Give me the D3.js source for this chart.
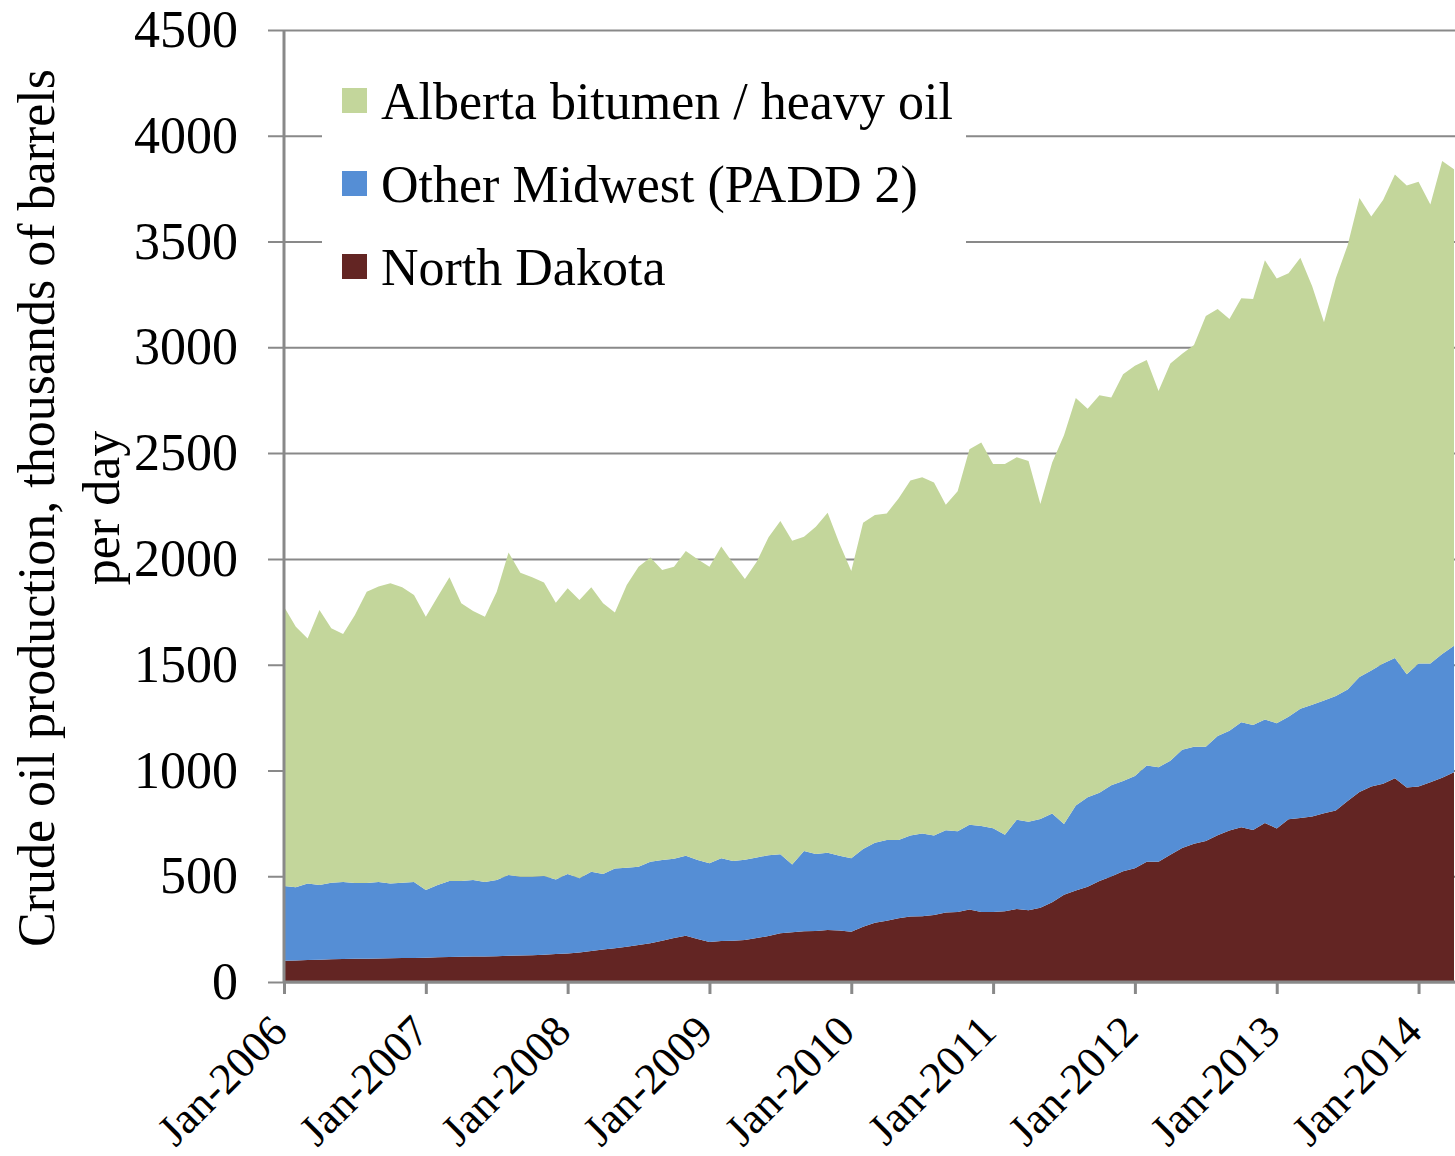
<!DOCTYPE html>
<html>
<head>
<meta charset="utf-8">
<script src="https://cdn.jsdelivr.net/npm/d3@7/dist/d3.min.js"></script>
<style>
  body { margin: 0; background: #fff; }
  svg { display: block; font-family: "Liberation Serif", "Times New Roman", serif; }
</style>
</head>
<body>
<svg id="chart" width="1455" height="1156"></svg>
<script>
// monthly, Jan-2006 .. Apr-2014, thousands of barrels per day
const years = [2006, 2007, 2008, 2009, 2010, 2011, 2012, 2013, 2014];
const monthCount = 100;

const northDakota = [
  100, 102, 104, 105, 107, 109, 110, 110, 111, 112, 113, 113,
  115, 117, 118, 119, 120, 121, 122, 124, 125, 127, 129, 132,
  135, 139, 147, 154, 159, 167, 175, 183, 195, 208, 219, 203,
  189, 194, 195, 198, 208, 217, 230, 235, 240, 241, 246, 244,
  238, 261, 280, 290, 301, 310, 311, 317, 329, 331, 343, 331,
  331, 335, 345, 339, 351, 377, 412, 432, 450, 477, 499, 524,
  538, 568, 568, 601, 633, 654, 666, 694, 716, 731, 718, 752,
  726, 769, 775, 782, 798, 811, 855, 898, 924, 937, 963, 919,
  924, 944, 965, 991
];

const otherMidwest = [
  354, 346, 362, 353, 362, 364, 358, 358, 362, 354, 356, 360,
  320, 341, 359, 358, 362, 352, 360, 382, 373, 371, 372, 353,
  375, 351, 374, 356, 378, 373, 370, 386, 382, 375, 378, 374,
  372, 391, 377, 380, 381, 382, 374, 321, 379, 364, 365, 353,
  347, 368, 378, 381, 370, 383, 391, 375, 388, 381, 400, 406,
  396, 361, 422, 418, 420, 419, 335, 402, 423, 418, 431, 426,
  436, 455, 447, 445, 465, 458, 446, 469, 472, 497, 497, 489,
  497, 485, 517, 528, 533, 541, 528, 544, 549, 569, 569, 536,
  582, 562, 585, 598
];

const alberta = [
  1320, 1231, 1158, 1300, 1203, 1172, 1267, 1377, 1396, 1419, 1397, 1356,
  1292, 1363, 1436, 1313, 1272, 1254, 1363, 1524, 1437, 1415, 1387, 1308,
  1351, 1316, 1345, 1280, 1209, 1337, 1418, 1438, 1370, 1380, 1440, 1421,
  1402, 1473, 1407, 1327, 1398, 1503, 1575, 1530, 1486, 1547, 1607, 1476,
  1358, 1542, 1549, 1544, 1614, 1678, 1684, 1669, 1539, 1608, 1775, 1813,
  1721, 1752, 1714, 1706, 1488, 1660, 1838, 1927, 1837, 1878, 1833, 1923,
  1939, 1917, 1779, 1877, 1872, 1899, 2036, 2018, 1946, 2004, 2014, 2171,
  2102, 2096, 2131, 1979, 1788, 1975, 2099, 2264, 2145, 2190, 2285, 2310,
  2277, 2169, 2331, 2253
];

const yTicks = [0, 500, 1000, 1500, 2000, 2500, 3000, 3500, 4000, 4500];

const seriesDefs = [
  {key: 'nd', label: 'North Dakota', color: '#632523', values: northDakota},
  {key: 'other', label: 'Other Midwest (PADD 2)', color: '#558ed5', values: otherMidwest},
  {key: 'alberta', label: 'Alberta bitumen / heavy oil', color: '#c3d69b', values: alberta}
];

const gridColor = '#898989';
const svg = d3.select('#chart');
const plot = {left: 284, right: 1454, top: 30, bottom: 982};

const rows = d3.range(monthCount).map(i => {
  const row = {i};
  seriesDefs.forEach(s => { row[s.key] = s.values[i]; });
  return row;
});

const x = d3.scaleLinear()
  .domain([0, monthCount - 1])
  .range([plot.left, plot.right]);

const y = d3.scaleLinear()
  .domain([0, 4500])
  .range([plot.bottom, plot.top]);

const stacked = d3.stack().keys(seriesDefs.map(s => s.key))(rows);

const area = d3.area()
  .x(d => x(d.data.i))
  .y0(d => y(d[0]))
  .y1(d => y(d[1]));

// gridlines + y labels
const yAxis = svg.append('g')
  .attr('transform', `translate(${plot.left - 16},0)`)
  .call(d3.axisLeft(y)
    .tickValues(yTicks)
    .tickSizeInner(-(1455 - plot.left + 16))
    .tickSizeOuter(0)
    .tickPadding(30)
    .tickFormat(d3.format('d')))
  .attr('font-family', null)
  .attr('font-size', null);
yAxis.select('.domain').remove();
yAxis.selectAll('line').attr('stroke', gridColor).attr('stroke-width', 2);
yAxis.selectAll('text')
  .attr('fill', '#000')
  .style('font-size', '52px');

svg.append('g')
  .selectAll('path')
  .data(stacked)
  .join('path')
    .attr('fill', (d, k) => seriesDefs[k].color)
    .attr('d', area);

// legend (white box hides the gridlines behind it)
const legend = svg.append('g');
legend.append('rect')
  .attr('x', 322).attr('y', 55)
  .attr('width', 644).attr('height', 250)
  .attr('fill', '#fff');

const legendRows = seriesDefs.slice().reverse();
const item = legend.selectAll('g.item')
  .data(legendRows)
  .join('g')
    .attr('class', 'item')
    .attr('transform', (d, k) => `translate(342,${88 + k * 83})`);
item.append('rect')
  .attr('width', 25).attr('height', 25)
  .attr('fill', d => d.color);
item.append('text')
  .attr('x', 39).attr('y', 12.5)
  .attr('dy', '0.35em')
  .style('font-size', '52px')
  .text(d => d.label);

// left axis line
svg.append('line')
  .attr('x1', plot.left).attr('x2', plot.left)
  .attr('y1', plot.top).attr('y2', plot.bottom)
  .attr('stroke', gridColor).attr('stroke-width', 3);

// x axis
const xAxis = svg.append('g')
  .attr('transform', `translate(0,${plot.bottom})`)
  .call(d3.axisBottom(x)
    .tickValues(years.map((yr, k) => k * 12))
    .tickSizeInner(12)
    .tickSizeOuter(0)
    .tickFormat((d, k) => `Jan-${years[k]}`))
  .attr('font-family', null)
  .attr('font-size', null);
xAxis.select('.domain')
  .attr('d', `M${plot.left},0H1455`)
  .attr('stroke', gridColor).attr('stroke-width', 3);
xAxis.selectAll('line').attr('stroke', gridColor).attr('stroke-width', 3);
xAxis.selectAll('text')
  .attr('fill', '#000')
  .style('font-size', '44px')
  .attr('text-anchor', 'end')
  .attr('dy', null)
  .attr('y', 0)
  .attr('transform', 'translate(5,52) rotate(-45)');

// y title
svg.append('text')
  .attr('transform', 'translate(36,508) rotate(-90)')
  .attr('text-anchor', 'middle')
  .style('font-size', '52px')
  .selectAll('tspan')
  .data(['Crude oil production, thousands of barrels', 'per day'])
  .join('tspan')
    .attr('x', 0)
    .attr('dy', (d, k) => k === 0 ? '0.35em' : '1.25em')
    .text(d => d);
</script>
</body>
</html>
